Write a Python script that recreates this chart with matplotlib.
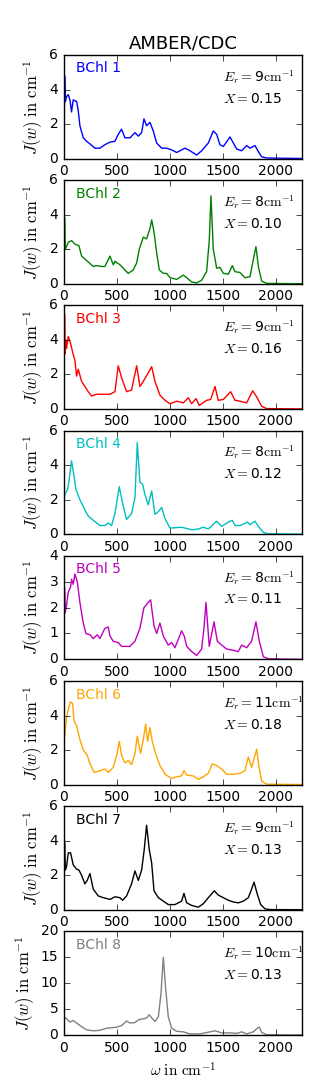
import matplotlib
matplotlib.use("Agg")
import matplotlib.pyplot as plt

plt.style.use("classic")
plt.rcParams["mathtext.fontset"] = "cm"
plt.rcParams["font.family"] = ["DejaVu Sans"]

labels = ["BChl 1", "BChl 2", "BChl 3", "BChl 4", "BChl 5", "BChl 6", "BChl 7", "BChl 8"]
colors = ["b", "g", "r", "c", "m", "orange", "k", "gray"]
er_values = [9, 8, 9, 8, 8, 11, 9, 10]
x_values = ["0.15", "0.10", "0.16", "0.12", "0.11", "0.18", "0.13", "0.13"]
ymax = [6, 6, 6, 6, 4, 6, 6, 20]
ystep = [2, 2, 2, 2, 1, 2, 2, 5]

w1 = [0, 7, 14, 25, 41, 57, 72, 88, 120, 135, 151, 183, 214, 246, 293, 340, 387, 435, 482, 513, 545, 576, 624, 671, 703, 734, 756, 781, 813, 844, 876, 923, 970, 1018, 1065, 1112, 1144, 1191, 1254, 1301, 1364, 1411, 1443, 1474, 1506, 1569, 1600, 1632, 1679, 1726, 1758, 1805, 1837, 1868, 1915, 2250]
j1 = [0.0, 4.8, 3.3, 3.6, 3.7, 3.4, 2.7, 3.4, 3.3, 2.8, 1.9, 1.2, 1.0, 0.85, 0.6, 0.6, 0.8, 0.95, 1.0, 1.4, 1.7, 1.2, 1.2, 1.5, 1.3, 1.5, 2.3, 1.9, 2.1, 1.6, 0.9, 0.6, 0.6, 0.5, 0.35, 0.5, 0.6, 0.45, 0.2, 0.45, 0.9, 1.6, 1.4, 0.8, 0.7, 1.25, 0.9, 0.55, 0.45, 0.75, 0.6, 0.75, 0.4, 0.1, 0.03, 0.0]

w2 = [0, 6, 13, 41, 72, 104, 142, 167, 214, 277, 309, 356, 387, 435, 466, 482, 529, 576, 608, 655, 687, 712, 750, 781, 813, 829, 851, 876, 901, 939, 970, 1002, 1065, 1128, 1160, 1207, 1254, 1301, 1348, 1373, 1389, 1411, 1443, 1474, 1506, 1553, 1591, 1616, 1663, 1710, 1758, 1789, 1814, 1837, 1868, 1915, 2250]
j2 = [0.0, 3.85, 2.0, 2.4, 2.5, 2.3, 2.2, 1.6, 1.35, 1.0, 1.05, 1.0, 1.0, 1.6, 1.1, 1.3, 1.1, 0.8, 0.6, 0.8, 1.2, 2.0, 2.7, 2.6, 3.2, 3.7, 3.0, 1.8, 0.8, 0.6, 0.6, 0.35, 0.25, 0.5, 0.35, 0.1, 0.05, 0.2, 0.7, 2.5, 5.1, 2.0, 0.9, 0.95, 0.6, 0.55, 1.05, 0.7, 0.65, 0.35, 0.4, 1.4, 2.15, 1.0, 0.15, 0.02, 0.0]

w3 = [0, 6, 11, 18, 25, 41, 63, 82, 104, 120, 135, 167, 198, 230, 261, 309, 372, 435, 482, 513, 545, 592, 639, 687, 718, 750, 797, 829, 860, 907, 955, 1002, 1065, 1128, 1175, 1207, 1248, 1279, 1348, 1386, 1427, 1458, 1506, 1575, 1616, 1663, 1726, 1783, 1821, 1868, 1915, 2250]
j3 = [0.0, 5.5, 3.2, 4.0, 3.5, 4.2, 3.8, 3.3, 2.8, 1.9, 2.3, 1.6, 1.3, 1.0, 0.75, 0.85, 0.85, 0.85, 1.0, 2.5, 1.8, 1.0, 1.1, 2.5, 1.3, 1.6, 2.1, 2.45, 1.6, 0.8, 0.5, 0.3, 0.45, 0.35, 0.65, 0.3, 0.6, 0.2, 0.5, 0.55, 1.3, 0.5, 0.55, 1.0, 0.5, 0.45, 0.35, 1.05, 0.7, 0.15, 0.02, 0.0]

w4 = [0, 9, 35, 50, 72, 95, 113, 151, 198, 230, 277, 340, 387, 419, 450, 482, 523, 554, 592, 639, 671, 693, 718, 743, 765, 797, 829, 860, 892, 923, 955, 1002, 1112, 1207, 1270, 1317, 1364, 1443, 1490, 1553, 1591, 1616, 1663, 1735, 1758, 1805, 1837, 1884, 1931, 2250]
j4 = [1.9, 2.3, 2.6, 3.2, 4.25, 3.4, 2.6, 2.0, 1.4, 1.05, 0.8, 0.5, 0.5, 0.65, 0.5, 1.2, 2.75, 1.8, 0.85, 1.2, 2.1, 5.3, 3.0, 2.9, 2.3, 1.7, 2.5, 1.15, 1.3, 1.55, 0.9, 0.35, 0.4, 0.25, 0.3, 0.4, 0.3, 0.75, 0.45, 0.7, 0.8, 0.5, 0.5, 0.7, 0.55, 0.75, 0.45, 0.1, 0.02, 0.0]

w5 = [0, 6, 12, 25, 41, 63, 72, 88, 104, 126, 151, 183, 208, 246, 277, 315, 340, 387, 419, 435, 466, 513, 545, 624, 671, 718, 756, 797, 819, 851, 876, 907, 939, 986, 1018, 1049, 1112, 1137, 1160, 1207, 1254, 1301, 1323, 1342, 1373, 1418, 1449, 1490, 1537, 1600, 1647, 1679, 1726, 1773, 1814, 1846, 1884, 1931, 2250]
j5 = [0.0, 2.75, 1.8, 2.1, 2.6, 2.8, 3.1, 2.9, 3.3, 3.0, 2.2, 1.4, 1.0, 0.95, 0.8, 0.95, 0.8, 1.2, 1.25, 0.9, 0.7, 0.65, 0.5, 0.5, 0.7, 1.2, 2.0, 2.2, 2.3, 1.3, 1.0, 1.4, 0.9, 0.55, 0.65, 0.45, 1.1, 0.9, 0.5, 0.3, 0.15, 0.4, 1.2, 2.2, 0.5, 1.45, 0.7, 0.55, 0.4, 0.35, 0.3, 0.55, 0.45, 0.7, 1.45, 0.7, 0.1, 0.02, 0.0]

w6 = [0, 9, 25, 47, 63, 82, 95, 120, 151, 183, 220, 246, 287, 340, 387, 419, 466, 498, 523, 545, 576, 608, 639, 671, 693, 724, 750, 772, 791, 813, 835, 866, 907, 955, 1018, 1065, 1112, 1134, 1160, 1222, 1270, 1317, 1364, 1402, 1443, 1490, 1537, 1600, 1663, 1710, 1742, 1773, 1821, 1843, 1868, 1915, 2250]
j6 = [2.6, 2.9, 3.9, 4.5, 4.8, 4.7, 3.7, 3.4, 2.6, 2.0, 1.7, 1.2, 0.7, 0.8, 0.9, 0.7, 1.0, 1.7, 2.5, 1.7, 1.25, 1.4, 1.15, 1.8, 2.8, 1.8, 2.6, 3.5, 2.5, 3.3, 2.5, 1.8, 1.1, 0.6, 0.35, 0.45, 0.5, 0.8, 0.55, 0.5, 0.3, 0.45, 0.65, 1.2, 1.1, 0.9, 0.6, 0.6, 0.65, 0.8, 1.6, 1.0, 2.05, 1.0, 0.2, 0.02, 0.0]

w7 = [0, 6, 13, 25, 41, 63, 88, 120, 142, 167, 198, 220, 246, 277, 324, 372, 435, 482, 529, 554, 592, 639, 671, 703, 734, 759, 781, 806, 829, 851, 892, 939, 986, 1049, 1112, 1134, 1160, 1207, 1270, 1317, 1364, 1421, 1458, 1506, 1553, 1600, 1647, 1695, 1742, 1773, 1796, 1827, 1859, 1900, 1947, 2250]
j7 = [0.0, 3.9, 2.3, 2.5, 3.3, 3.3, 2.6, 2.35, 2.3, 2.0, 1.5, 1.7, 2.1, 1.2, 0.8, 0.7, 0.6, 0.75, 0.7, 0.55, 0.8, 1.5, 2.25, 1.7, 2.3, 3.5, 4.9, 3.5, 2.7, 1.1, 0.7, 0.5, 0.3, 0.3, 0.5, 0.95, 0.4, 0.25, 0.15, 0.35, 0.7, 1.1, 0.85, 0.7, 0.55, 0.45, 0.4, 0.5, 0.7, 1.2, 1.6, 0.9, 0.3, 0.05, 0.01, 0.0]

w8 = [0, 9, 41, 57, 88, 120, 167, 214, 277, 340, 403, 450, 498, 545, 592, 624, 671, 712, 750, 781, 806, 829, 860, 892, 917, 939, 961, 986, 1018, 1065, 1128, 1191, 1285, 1380, 1427, 1490, 1569, 1632, 1679, 1726, 1789, 1827, 1846, 1868, 1915, 2250]
j8 = [4.0, 3.4, 2.8, 2.5, 2.8, 2.3, 1.6, 1.0, 0.8, 0.9, 1.3, 1.4, 1.5, 1.8, 2.7, 2.3, 2.4, 3.0, 3.1, 3.3, 3.9, 3.3, 2.6, 3.5, 8.0, 15.0, 9.0, 3.5, 1.3, 0.7, 0.6, 0.2, 0.2, 0.6, 0.8, 0.4, 0.4, 0.3, 0.6, 0.2, 0.6, 1.3, 1.5, 0.5, 0.05, 0.0]

omegas = [w1, w2, w3, w4, w5, w6, w7, w8]
spectra = [j1, j2, j3, j4, j5, j6, j7, j8]

fig, axes = plt.subplots(8, 1, figsize=(3.18, 10.9), dpi=100, facecolor="white")
fig.subplots_adjust(left=0.201, right=0.950, top=0.9495, bottom=0.0505, hspace=0.21)

for i, ax in enumerate(axes):
    ax.set_facecolor("white")
    ax.plot(omegas[i], spectra[i], color=colors[i], lw=1.0)
    ax.set_xlim(0, 2250)
    ax.set_ylim(0, ymax[i])
    ax.set_xticks([0, 500, 1000, 1500, 2000])
    ax.set_yticks(list(range(0, ymax[i] + 1, ystep[i])))
    ax.tick_params(direction="in", top=True, right=True, labelsize=10, length=4)
    ax.set_ylabel(r"$J(w)\ \mathrm{in\ cm}^{-1}$", fontsize=12, labelpad=3)
    ax.text(0.05, 0.87, labels[i], color=colors[i], fontsize=10,
            transform=ax.transAxes, va="center", ha="left")
    ax.text(0.67, 0.79, r"$E_r=$" + str(er_values[i]) + r"$\mathrm{cm}^{-1}$",
            fontsize=10, transform=ax.transAxes, va="center", ha="left")
    ax.text(0.67, 0.58, r"$X=$" + x_values[i], fontsize=10,
            transform=ax.transAxes, va="center", ha="left")

axes[0].set_title("AMBER/CDC", fontsize=13)
axes[-1].set_xlabel(r"$\omega\ \mathrm{in\ cm}^{-1}$", fontsize=11)

fig.savefig("out.png", dpi=100, facecolor="white")
